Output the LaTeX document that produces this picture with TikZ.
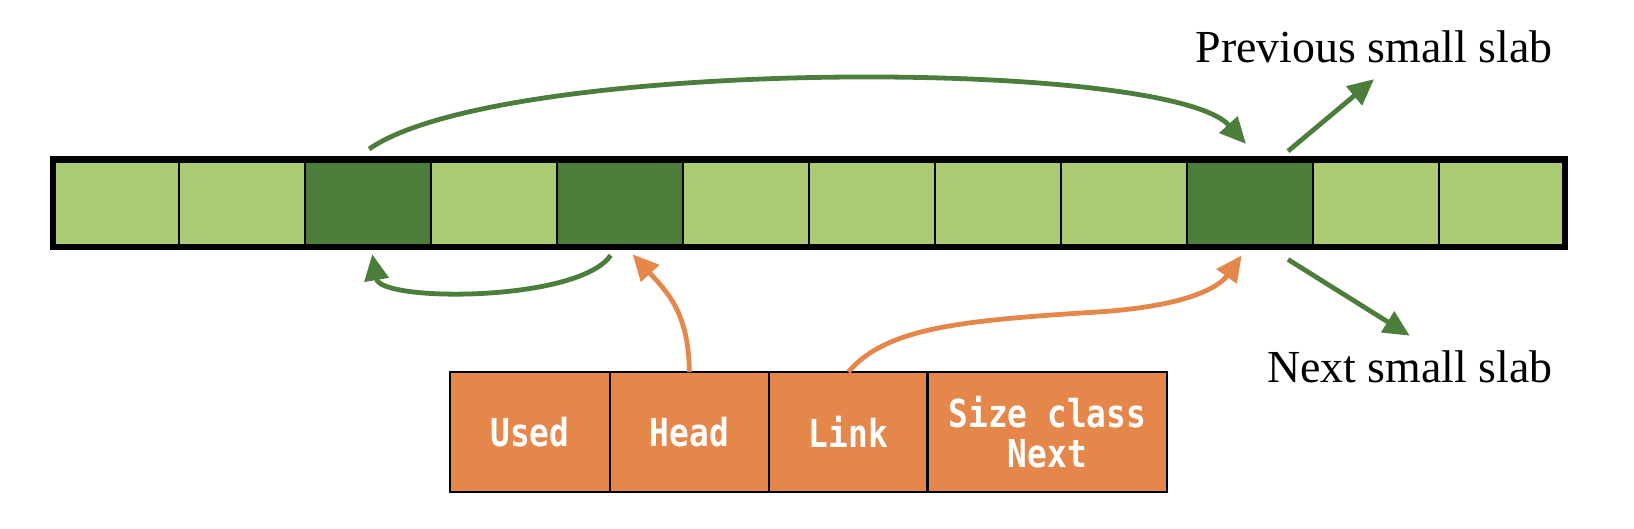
\documentclass[tikz,border=0pt]{standalone}
\usepackage{fontspec}
\setmainfont{Liberation Serif}
\newfontfamily\monob{DejaVu Sans Mono}[FakeStretch=0.85]
\usetikzlibrary{arrows.meta,calc}
\definecolor{lightg}{HTML}{ABCC72}
\definecolor{darkg}{HTML}{4B7D3B}
\definecolor{orng}{HTML}{E5864A}
\tikzset{
  cell/.style={draw=black, line width=1pt, minimum width=60.45pt, minimum height=42pt,
    inner sep=0pt, outer sep=0pt, fill=lightg, anchor=west},
  dcell/.style={cell, fill=darkg},
  field/.style={draw=black, line width=1pt, minimum height=57.5pt, inner sep=0pt, outer sep=0pt,
    fill=orng, text=white, font=\monob\bfseries\fontsize{18.5}{19.5}\selectfont, align=center},
  garr/.style={draw=darkg, line width=2.3pt, -{Triangle[length=12.5pt,width=11.5pt]}},
  oarr/.style={draw=orng, line width=2.3pt, -{Triangle[length=12.5pt,width=11.5pt]}},
  lbl/.style={font=\fontsize{22}{26}\selectfont, inner sep=0pt}
}
\begin{document}
\begin{tikzpicture}[x=0.5pt,y=-0.5pt]
\useasboundingbox (0,0) rectangle (1568,507);
% slab bar
\node[cell]  (c1) at (51,195) {};
\node[cell]  (c2) at (c1.east) {};
\node[dcell] (c3) at (c2.east) {};
\node[cell]  (c4) at (c3.east) {};
\node[dcell] (c5) at (c4.east) {};
\node[cell]  (c6) at (c5.east) {};
\node[cell]  (c7) at (c6.east) {};
\node[cell]  (c8) at (c7.east) {};
\node[cell]  (c9) at (c8.east) {};
\node[dcell] (c10) at (c9.east) {};
\node[cell]  (c11) at (c10.east) {};
\node[cell]  (c12) at (c11.east) {};
\draw[line width=3pt] (c1.north west) rectangle (c12.south east);
% header struct
\node[field, minimum width=76.5pt] (used) at (508.5,414.5) {Used};
\node[field, minimum width=76.5pt, anchor=west] (head) at (used.east) {Head};
\node[field, minimum width=76pt, anchor=west] (link) at (head.east) {Link};
\node[field, minimum width=115pt, anchor=west] (size) at (link.east) {Size class\\Next};
% labels
\node[lbl, anchor=base east] (prev) at (1490,60) {Previous small slab};
\node[lbl, anchor=base east] (next) at (1490,367) {Next small slab};
% arrows
\draw[garr] ($(c3.north)+(1,-10)$) .. controls (480,55) and (1120,55) .. ($(c10.north)+(-4,-15)$);
\draw[garr] ($(c5.south)+(-9,8)$) .. controls (555,290) and (365,290) .. ($(c3.south)+(4,7)$);
\draw[oarr] (head.north) .. controls (661,300) and (640,280) .. ($(c5.south)+(12,7)$);
\draw[oarr] (link.north) .. controls (850,315) and (920,308) .. (1043,300)
   .. controls (1140,295) and (1170,275) .. ($(c10.south)+(-8,8)$);
\draw[garr] ($(c10.north east)+(-24,-8)$) -- ($(prev.base)+(0,16)$);
\draw[garr] ($(c10.south east)+(-24,12)$) -- ($(next.north)+(0,-14)$);
\end{tikzpicture}
\end{document}
